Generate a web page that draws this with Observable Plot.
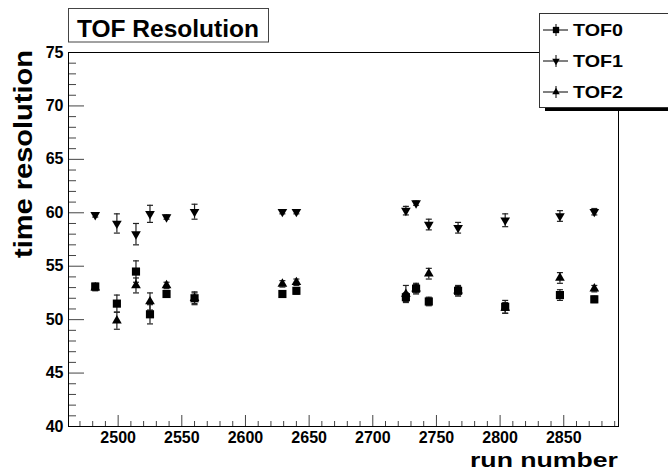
<!DOCTYPE html>
<html>
<head>
<meta charset="utf-8">
<script src="https://cdn.jsdelivr.net/npm/d3@7"></script>
<script src="https://cdn.jsdelivr.net/npm/@observablehq/plot@0.6"></script>
<style>
  html, body { margin: 0; padding: 0; background: #fff; }
</style>
</head>
<body>
<div id="chart"></div>
<script>
// ---- data ----
const runs    = [2482, 2499, 2514, 2525, 2538, 2560, 2629, 2640, 2726, 2734, 2744, 2767, 2804, 2847, 2874];
const tof0    = [53.1, 51.5, 54.5, 50.5, 52.4, 52.0, 52.4, 52.7, 52.1, 52.9, 51.7, 52.7, 51.2, 52.3, 51.9];
const tof0Err = [0.3, 0.8, 1.0, 0.9, 0.3, 0.6, 0.3, 0.3, 0.4, 0.5, 0.4, 0.5, 0.6, 0.5, 0.3];
const tof1    = [59.8, 59.0, 58.0, 59.9, 59.6, 60.1, 60.1, 60.1, 60.2, 60.9, 58.9, 58.6, 59.3, 59.7, 60.1];
const tof1Err = [0.2, 0.9, 1.0, 0.8, 0.2, 0.7, 0.2, 0.2, 0.4, 0.2, 0.5, 0.5, 0.6, 0.5, 0.3];
const tof2    = [53.0, 49.9, 53.2, 51.7, 53.2, 52.0, 53.35, 53.5, 52.4, 52.9, 54.3, 52.7, 51.1, 53.9, 52.9];
const tof2Err = [0.3, 0.8, 0.7, 0.8, 0.3, 0.5, 0.3, 0.3, 0.8, 0.4, 0.5, 0.4, 0.5, 0.5, 0.3];

const seriesNames = ["TOF0", "TOF1", "TOF2"];
const xMajor = [2500, 2550, 2600, 2650, 2700, 2750, 2800, 2850];
const xMinor = d3.range(2470, 2891, 10).filter(v => v % 50 !== 0);
const yMajor = [40, 45, 50, 55, 60, 65, 70, 75];
const yMinor = d3.range(41, 75, 1).filter(v => v % 5 !== 0);

const titleText = "TOF Resolution";
const xLabel = "run number";
const yLabel = "time resolution";

// ---- build table ----
function rows(name, vals, errs) {
  return runs.map((r, i) => ({series: name, run: r, value: vals[i], err: errs[i]}));
}
const d0 = rows("TOF0", tof0, tof0Err);
const d1 = rows("TOF1", tof1, tof1Err);
const d2 = rows("TOF2", tof2, tof2Err);
const all = [...d0, ...d1, ...d2];

const capSymbol = {
  draw(context, size) {
    const w = Math.sqrt(size);
    context.moveTo(-w / 2, 0);
    context.lineTo(w / 2, 0);
  }
};

const W = 668, H = 471;
const mL = 68, mR = 50, mT = 52, mB = 45;
const frameW = W - mL - mR, frameH = H - mT - mB;
const FONT = "'Liberation Sans', Arial, Helvetica, sans-serif";
const rSq = 4.6, rTri = 3.6;

const chart = Plot.plot({
  width: W,
  height: H,
  marginLeft: mL,
  marginRight: mR,
  marginTop: mT,
  marginBottom: mB,
  style: {fontFamily: FONT, fontSize: "16px", fontWeight: "bold", color: "black", background: "white"},
  x: {domain: [2461, 2893]},
  y: {domain: [40, 75]},
  marks: [
    Plot.axisX(xMajor, {tickSize: 0, tickPadding: 5, label: null, fontSize: 16, fontWeight: "bold", tickFormat: d => String(d)}),
    Plot.axisY(yMajor, {tickSize: 0, tickPadding: 5, label: null, fontSize: 16, fontWeight: "bold"}),
    // inward ticks
    Plot.tickX(xMajor, {x: d => d, insetTop: frameH - 11, stroke: "#444", strokeWidth: 1}),
    Plot.tickX(xMinor, {x: d => d, insetTop: frameH - 5, stroke: "#444", strokeWidth: 1}),
    Plot.tickY(yMajor, {y: d => d, insetRight: frameW - 16, stroke: "#444", strokeWidth: 1}),
    Plot.tickY(yMinor, {y: d => d, insetRight: frameW - 8, stroke: "#444", strokeWidth: 1}),
    Plot.frame({stroke: "black", strokeWidth: 1}),
    // error bars
    Plot.ruleX(all, {x: "run", y1: d => d.value - d.err, y2: d => d.value + d.err, stroke: "#222", strokeWidth: 1.2}),
    Plot.dot(all, {x: "run", y: d => d.value - d.err, symbol: capSymbol, r: 3.4, stroke: "#222", fill: "none", strokeWidth: 1.2}),
    Plot.dot(all, {x: "run", y: d => d.value + d.err, symbol: capSymbol, r: 3.4, stroke: "#222", fill: "none", strokeWidth: 1.2}),
    // markers
    Plot.dot(d0, {x: "run", y: "value", symbol: "square", r: rSq, fill: "black", stroke: "none"}),
    Plot.dot(d1, {x: "run", y: "value", symbol: "triangle", rotate: 180, r: rTri, fill: "black", stroke: "none"}),
    Plot.dot(d2, {x: "run", y: "value", symbol: "triangle", r: rTri, fill: "black", stroke: "none"})
  ]
});

document.getElementById("chart").appendChild(chart);

// ---- annotations: title box, axis labels, legend ----
const svg = d3.select(chart);
const g = svg.append("g")
  .attr("font-family", FONT).attr("font-weight", "bold").attr("fill", "black")
  .attr("text-anchor", "start");

// axis titles
g.append("text")
  .attr("x", 470).attr("y", 467)
  .attr("text-anchor", "start")
  .attr("font-size", 20)
  .attr("textLength", 148).attr("lengthAdjust", "spacingAndGlyphs")
  .text(xLabel);

g.append("text")
  .attr("transform", "translate(32,258) rotate(-90)")
  .attr("text-anchor", "start")
  .attr("font-size", 25)
  .attr("textLength", 208).attr("lengthAdjust", "spacingAndGlyphs")
  .text(yLabel);

// title box
g.append("rect").attr("x", 68.5).attr("y", 8.5).attr("width", 200).attr("height", 33.5)
  .attr("fill", "white").attr("stroke", "#444").attr("stroke-width", 1);
g.append("text").attr("x", 77).attr("y", 36.5).attr("font-size", 24)
  .attr("text-anchor", "start")
  .attr("textLength", 182).attr("lengthAdjust", "spacingAndGlyphs")
  .text(titleText);

// legend
g.append("rect").attr("x", 545).attr("y", 107).attr("width", 130).attr("height", 4).attr("fill", "black");
g.append("rect").attr("x", 539.5).attr("y", 13.5).attr("width", 140).attr("height", 94)
  .attr("fill", "white").attr("stroke", "#333").attr("stroke-width", 1);
const legendY = [30, 61, 92];
const legendSym = [d3.symbolSquare, d3.symbolTriangle, d3.symbolTriangle];
const legendRot = [0, 180, 0];
const legendSize = [rSq * rSq * Math.PI * 0.6, rTri * rTri * Math.PI * 0.6, rTri * rTri * Math.PI * 0.6];
seriesNames.forEach((name, i) => {
  const y = legendY[i];
  const e = g.append("g");
  e.append("line").attr("x1", 543).attr("x2", 568).attr("y1", y).attr("y2", y).attr("stroke", "black").attr("stroke-width", 1);
  e.append("line").attr("x1", 556).attr("x2", 556).attr("y1", y - 6).attr("y2", y + 6).attr("stroke", "black").attr("stroke-width", 1);
  e.append("path").attr("d", d3.symbol(legendSym[i], legendSize[i])())
    .attr("transform", `translate(556,${y}) rotate(${legendRot[i]})`).attr("fill", "black");
  e.append("text").attr("x", 573).attr("y", y + 6).attr("font-size", 17)
    .attr("text-anchor", "start")
    .attr("textLength", 50).attr("lengthAdjust", "spacingAndGlyphs")
    .text(name);
});
</script>
</body>
</html>
